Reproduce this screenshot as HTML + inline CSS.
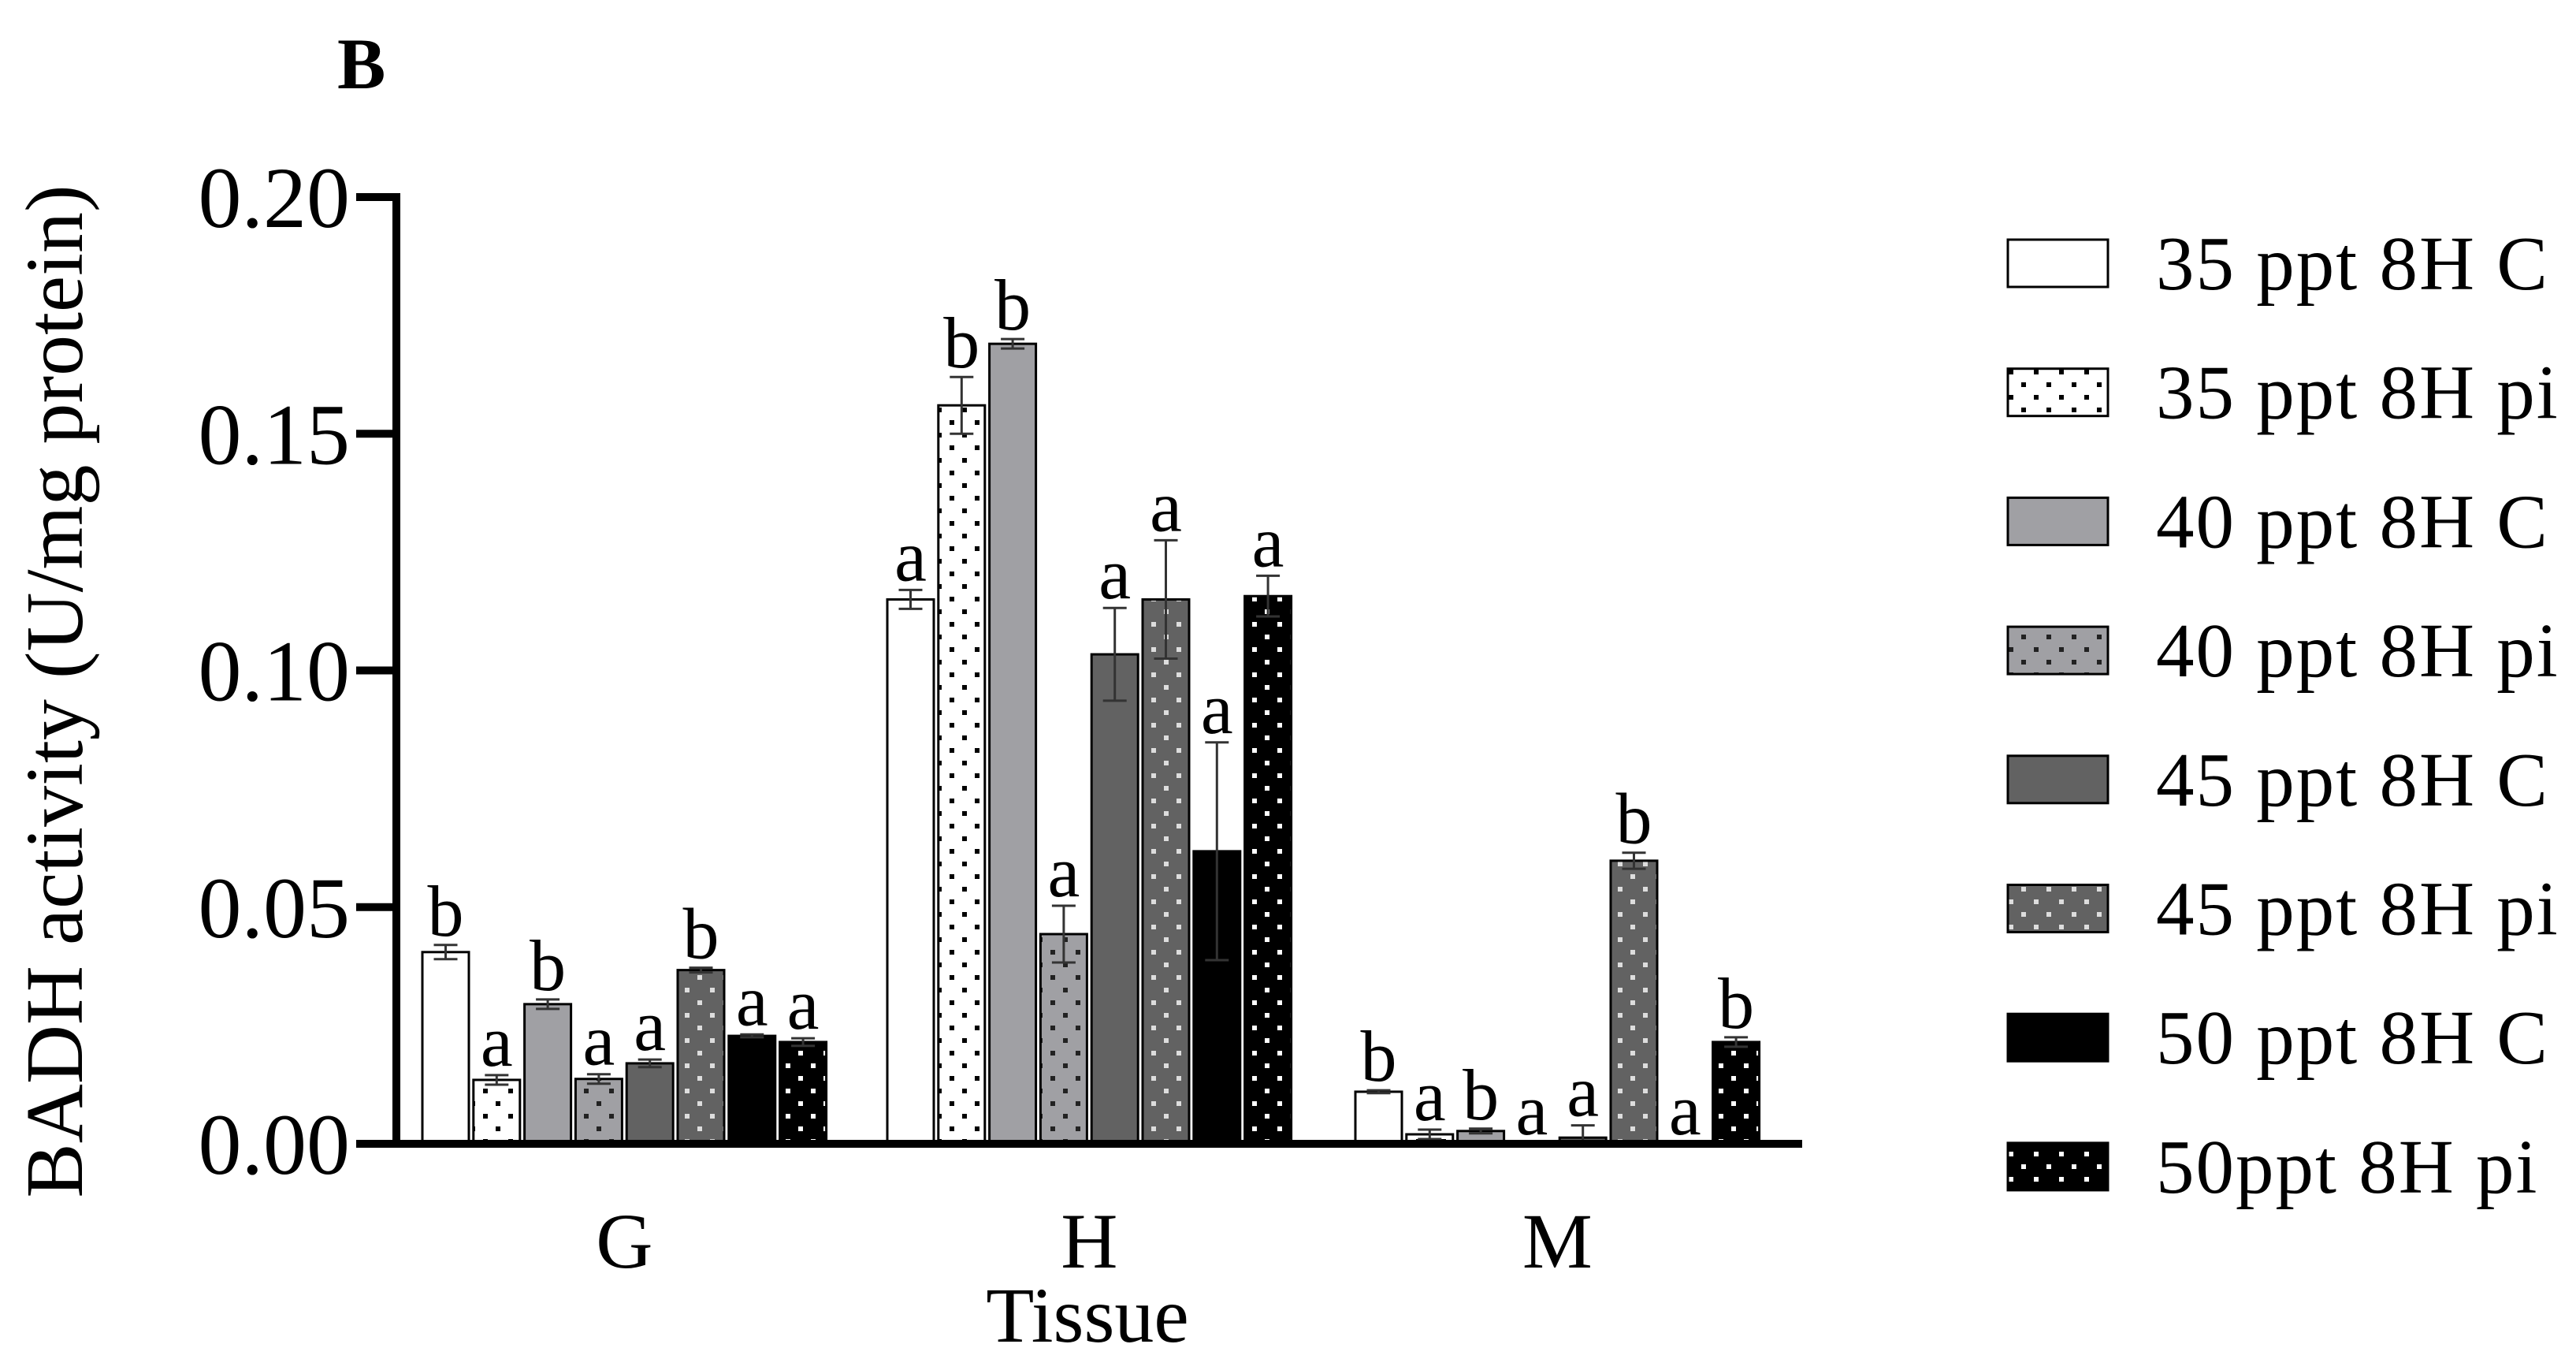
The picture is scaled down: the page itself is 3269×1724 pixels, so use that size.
<!DOCTYPE html>
<html><head><meta charset="utf-8">
<style>
html,body{margin:0;padding:0;background:#fff;}
svg{display:block;font-family:"Liberation Serif","Times New Roman",serif;}
</style></head>
<body>
<svg id="chart" width="3269" height="1724" viewBox="0 0 3269 1724" xmlns="http://www.w3.org/2000/svg">
<defs>
<pattern id="p-w" width="32" height="32" patternUnits="userSpaceOnUse"><rect width="32" height="32" fill="#fff"/><rect x="5" y="5" width="6" height="6" fill="#000"/><rect x="21" y="21" width="6" height="6" fill="#000"/></pattern>
<pattern id="p-g" width="32" height="32" patternUnits="userSpaceOnUse"><rect width="32" height="32" fill="#a0a0a4"/><rect x="5" y="5" width="6" height="6" fill="#222"/><rect x="21" y="21" width="6" height="6" fill="#222"/></pattern>
<pattern id="p-d" width="32" height="32" patternUnits="userSpaceOnUse"><rect width="32" height="32" fill="#626262"/><rect x="5" y="5" width="6" height="6" fill="#ddd"/><rect x="21" y="21" width="6" height="6" fill="#ddd"/></pattern>
<pattern id="p-b" width="32" height="32" patternUnits="userSpaceOnUse"><rect width="32" height="32" fill="#000"/><rect x="5" y="5" width="6" height="6" fill="#fff"/><rect x="21" y="21" width="6" height="6" fill="#fff"/></pattern>
</defs>
<text x="428" y="112" font-size="92" font-weight="bold">B</text>
<g id="plot"></g>
<g id="legend"></g>
</svg>
<script>
const categories = ["G","H","M"];
const seriesNames = ["35 ppt 8H C","35 ppt 8H pi","40 ppt 8H C","40 ppt 8H pi","45 ppt 8H C","45 ppt 8H pi","50 ppt 8H C","50ppt 8H pi"];
const valuesG = [0.0405,0.0135,0.0295,0.0137,0.017,0.0367,0.0228,0.0215];
const valuesH = [0.115,0.156,0.169,0.0443,0.1034,0.115,0.0618,0.1157];
const valuesM = [0.011,0.002,0.0027,0,0.0013,0.0598,0,0.0215];
const errorsG = [0.0015,0.001,0.001,0.001,0.0008,0.0005,0.0003,0.0008];
const errorsH = [0.002,0.006,0.001,0.006,0.0098,0.0125,0.023,0.0043];
const errorsM = [0.0003,0.001,0.0005,0,0.0026,0.0017,0,0.001];
const lettersG = ["b","a","b","a","a","b","a","a"];
const lettersH = ["a","b","b","a","a","a","a","a"];
const lettersM = ["b","a","b","a","a","b","a","b"];
const yTicks = [0,0.05,0.10,0.15,0.20];
const yTickLabels = ["0.00","0.05","0.10","0.15","0.20"];

const fills = ["#fff","url(#p-w)","#a0a0a4","url(#p-g)","#626262","url(#p-d)","#000","url(#p-b)"];
const NS="http://www.w3.org/2000/svg";
const plot=document.getElementById('plot');
const legend=document.getElementById('legend');
const y0=1451, pxPerUnit=6005, axisX=503;
function yScale(v){return y0 - v*pxPerUnit;}
const groupStart=[536,1126,1720], barPitch=64.8, barW=59;
function xBar(gi,si){return groupStart[gi]+si*barPitch;}
function mk(tag,attrs,parent){const e=document.createElementNS(NS,tag);for(const k in attrs)e.setAttribute(k,attrs[k]);parent.appendChild(e);return e;}

const allVals=[valuesG,valuesH,valuesM], allErr=[errorsG,errorsH,errorsM], allLet=[lettersG,lettersH,lettersM];
allVals.forEach((vals,gi)=>{
  vals.forEach((v,si)=>{
    const x=xBar(gi,si), yt=yScale(v);
    if(v>0){
      const r=mk('rect',{x:x,y:yt,width:barW,height:y0-yt,fill:fills[si],stroke:'#000','stroke-width':3},plot);
      
      
    }
    const e=allErr[gi][si];
    let top=yt;
    if(e>0){
      const cx=x+barW/2, ya=yScale(v+e), yb=yScale(Math.max(v-e,0));
      const eb=mk('path',{d:`M${cx},${ya}V${yb}M${cx-15},${ya}H${cx+15}M${cx-15},${yb}H${cx+15}`,stroke:'#333','stroke-width':3,fill:'none'},plot);
      
      
      top=ya;
    }
    const t=mk('text',{x:x+barW/2,y:top-12,'font-size':92,'text-anchor':'middle'},plot);
    t.textContent=allLet[gi][si];
    
    
  });
});
// axes
const ya=mk('line',{x1:axisX,y1:245,x2:axisX,y2:y0+5,stroke:'#000','stroke-width':10},plot);


const xa=mk('line',{x1:axisX-5,y1:y0,x2:2287,y2:y0,stroke:'#000','stroke-width':10},plot);


yTicks.forEach((v,i)=>{
  const yy=yScale(v);
  const tk=mk('line',{x1:452,y1:yy,x2:axisX,y2:yy,stroke:'#000','stroke-width':10},plot);
  
  
  const tl=mk('text',{x:444,y:yy+38,'font-size':110,'text-anchor':'end'},plot);
  tl.textContent=yTickLabels[i];
  
  
});
categories.forEach((c,gi)=>{
  const cx=groupStart[gi]+(7*barPitch+barW)/2;
  const t=mk('text',{x:cx,y:1608,'font-size':100,'text-anchor':'middle'},plot);
  t.textContent=c;
  
  
});
const xt=mk('text',{x:1380,y:1702,'font-size':100,'text-anchor':'middle'},plot);
xt.textContent='Tissue';


const yt=mk('text',{x:0,y:0,'font-size':104,'text-anchor':'middle',transform:'translate(104,877) rotate(-90)'},plot);
yt.textContent='BADH activity (U/mg protein)';


// legend
seriesNames.forEach((n,i)=>{
  const cy=334+i*163.7;
  const r=mk('rect',{x:2548,y:cy-30,width:127,height:60,fill:fills[i],stroke:'#000','stroke-width':3},legend);
  
  
  const t=mk('text',{x:2736,y:cy+33,'font-size':97,'letter-spacing':2},legend);
  t.textContent=n;
  
  
});
</script>
</body></html>
